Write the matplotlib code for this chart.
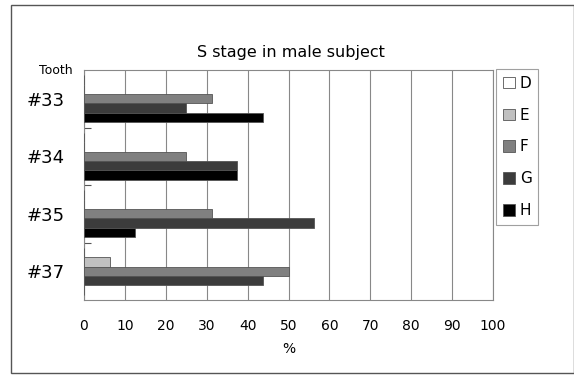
import numpy as np
import matplotlib
matplotlib.use('Agg')
import matplotlib.pyplot as plt
from matplotlib.patches import Rectangle

# Data
teeth = ['#33', '#34', '#35', '#37']
stages = ['D', 'E', 'F', 'G', 'H']
values = {
    'D': [0, 0, 0, 0],
    'E': [0, 0, 0, 6.25],
    'F': [31.25, 25, 31.25, 50],
    'G': [25, 37.5, 56.25, 43.75],
    'H': [43.75, 37.5, 12.5, 0],
}
stage_colors = ['#ffffff', '#c0c0c0', '#808080', '#3c3c3c', '#000000']
xticks = list(range(0, 101, 10))

W, H = 574, 375
fig = plt.figure(figsize=(W / 100, H / 100), dpi=100)
fig.patch.set_facecolor('white')

# outer frame of the figure
fig.add_artist(Rectangle((11 / W, 1 - 373 / H), (W - 11) / W, (373 - 5) / H,
                         transform=fig.transFigure, fill=False,
                         edgecolor='#555555', linewidth=1.0))

ax = fig.add_axes([84 / W, 1 - 300 / H, (493 - 84) / W, (300 - 70) / H])

bar_h = 0.163
pos = np.arange(len(teeth))
for j, (s, c) in enumerate(zip(stages, stage_colors)):
    offs = pos + (j - 2) * bar_h
    vals = values[s]
    ax.barh(offs, vals, height=bar_h, color=c, edgecolor='#555555',
            linewidth=0.6, zorder=3)

ax.set_xlim(0, 100)
ax.set_ylim(3.5, -0.5)
ax.set_xticks(xticks)
ax.set_xticklabels([str(t) for t in xticks], fontsize=10)
ax.tick_params(axis='x', length=0, pad=14)
ax.set_yticks(pos)
ax.set_yticklabels(teeth, fontsize=13)
ax.tick_params(axis='y', length=0, pad=14)
ax.set_yticks([0.5, 1.5, 2.5], minor=True)
ax.tick_params(axis='y', which='minor', direction='in', length=5,
               color='#555555', width=0.8)
ax.grid(axis='x', color='#888888', linewidth=0.8, zorder=0)
for sp in ax.spines.values():
    sp.set_color('#888888')
    sp.set_linewidth(0.8)

ax.set_xlabel('%', fontsize=10, labelpad=6)
fig.text(291 / W, 1 - 52 / H, 'S stage in male subject', ha='center',
         va='center', fontsize=11.5)
fig.text(56 / W, 1 - 71 / H, 'Tooth', ha='center', va='center', fontsize=9)

handles = [Rectangle((0, 0), 1, 1, facecolor=c, edgecolor='#555555',
                     linewidth=0.6) for c in stage_colors]
leg = fig.legend(handles, stages, loc='upper left',
                 bbox_to_anchor=(496 / W, 1 - 69 / H), fontsize=11,
                 frameon=True, fancybox=False, handlelength=0.8,
                 handleheight=0.8, handletextpad=0.3, labelspacing=1.1,
                 borderpad=0.45, borderaxespad=0)
leg.get_frame().set_edgecolor('#888888')
leg.get_frame().set_linewidth(0.8)

plt.savefig('out.png', dpi=100)
